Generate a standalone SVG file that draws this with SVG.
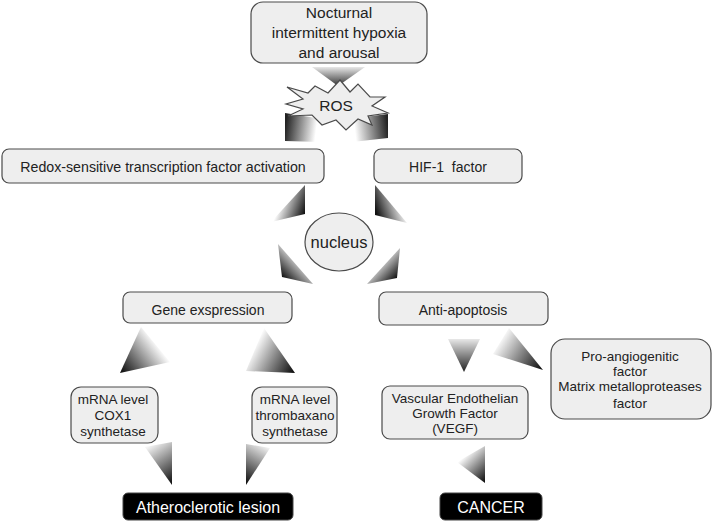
<svg xmlns="http://www.w3.org/2000/svg" width="713" height="530" viewBox="0 0 713 530">
<style>
.box{fill:#eeeeee;stroke:#4a4a4a;stroke-width:1.2}
.dark{fill:#000;stroke:#444;stroke-width:1}
text{font-family:"Liberation Sans",Arial,sans-serif;fill:#222;text-anchor:middle}
.w{fill:#fff}
.s13{font-size:13.5px}
.s14{font-size:14px}
.s15{font-size:15.5px}
.s16{font-size:16px}
</style>
<defs>
<linearGradient id="g1" gradientUnits="userSpaceOnUse" x1="338" y1="67" x2="338" y2="86"><stop offset="0" stop-color="#e8e8e8"/><stop offset="1" stop-color="#333"/></linearGradient>
<linearGradient id="g2" gradientUnits="userSpaceOnUse" x1="285" y1="128" x2="316" y2="132"><stop offset="0" stop-color="#222"/><stop offset="1" stop-color="#fff"/></linearGradient>
<linearGradient id="g3" gradientUnits="userSpaceOnUse" x1="388" y1="128" x2="355" y2="132"><stop offset="0" stop-color="#222"/><stop offset="1" stop-color="#fff"/></linearGradient>
<linearGradient id="g4" gradientUnits="userSpaceOnUse" x1="280" y1="203" x2="305" y2="212"><stop offset="0" stop-color="#fff"/><stop offset="1" stop-color="#111"/></linearGradient>
<linearGradient id="g5" gradientUnits="userSpaceOnUse" x1="402" y1="203" x2="376" y2="212"><stop offset="0" stop-color="#fff"/><stop offset="1" stop-color="#111"/></linearGradient>
<linearGradient id="g6" gradientUnits="userSpaceOnUse" x1="302" y1="258" x2="282" y2="277"><stop offset="0" stop-color="#fff"/><stop offset="1" stop-color="#111"/></linearGradient>
<linearGradient id="g7" gradientUnits="userSpaceOnUse" x1="378" y1="260" x2="397" y2="278"><stop offset="0" stop-color="#fff"/><stop offset="1" stop-color="#111"/></linearGradient>
<linearGradient id="g8" gradientUnits="userSpaceOnUse" x1="158" y1="345" x2="122" y2="372"><stop offset="0" stop-color="#fff"/><stop offset="1" stop-color="#111"/></linearGradient>
<linearGradient id="g9" gradientUnits="userSpaceOnUse" x1="252" y1="350" x2="293" y2="372"><stop offset="0" stop-color="#fff"/><stop offset="1" stop-color="#111"/></linearGradient>
<linearGradient id="g10" gradientUnits="userSpaceOnUse" x1="148" y1="447" x2="172" y2="483"><stop offset="0" stop-color="#f4f4f4"/><stop offset="1" stop-color="#111"/></linearGradient>
<linearGradient id="g11" gradientUnits="userSpaceOnUse" x1="268" y1="447" x2="247" y2="483"><stop offset="0" stop-color="#f4f4f4"/><stop offset="1" stop-color="#111"/></linearGradient>
<linearGradient id="g12" gradientUnits="userSpaceOnUse" x1="464" y1="339" x2="464" y2="372"><stop offset="0" stop-color="#e8e8e8"/><stop offset="1" stop-color="#222"/></linearGradient>
<linearGradient id="g13" gradientUnits="userSpaceOnUse" x1="498" y1="342" x2="541" y2="369"><stop offset="0" stop-color="#fff"/><stop offset="1" stop-color="#111"/></linearGradient>
<linearGradient id="g14" gradientUnits="userSpaceOnUse" x1="462" y1="458" x2="485" y2="481"><stop offset="0" stop-color="#fff"/><stop offset="1" stop-color="#111"/></linearGradient>
</defs>
<rect width="713" height="530" fill="#fff"/>
<g id="connectors">
<polygon points="312,67 365,67 338,86" fill="url(#g1)"/>
<polygon points="285,113 316,118 320,142 285,141" fill="url(#g2)"/>
<polygon points="388,114 356,118 352,142 388,138" fill="url(#g3)"/>
<polygon points="305,185 305,214 271,222" fill="url(#g4)"/>
<polygon points="375,185 375,215 407,223" fill="url(#g5)"/>
<polygon points="278,244 282,277 313,284" fill="url(#g6)"/>
<polygon points="400,248 397,278 367,284" fill="url(#g7)"/>
<polygon points="141,327 120,373 170,362" fill="url(#g8)"/>
<polygon points="264,328 295,373 246,371" fill="url(#g9)"/>
<polygon points="145,447 172,442 172,485" fill="url(#g10)"/>
<polygon points="246,444 270,448 246,485" fill="url(#g11)"/>
<polygon points="448,339 480,339 464,372" fill="url(#g12)"/>
<polygon points="509,328 493,354 543,370" fill="url(#g13)"/>
<polygon points="485,446 457,462 485,483" fill="url(#g14)"/>
</g>
<g id="n-top">
<rect class="box" x="251" y="2" width="176" height="61" rx="12"/>
<text class="s15" x="339" y="18">Nocturnal</text>
<text class="s15" x="339" y="38">intermittent hypoxia</text>
<text class="s15" x="339" y="58">and arousal</text>
</g>
<g id="n-ros">
<polygon class="box" points="340,80 350,92 358,84 370,97 385,97 372,106 388,113 368,116 372,125 358,119 346,130 336,120 322,125 312,115 288,116 303,109 286,104 303,99 287,87 308,93 315,86 328,93"/>
<text class="s15" x="336" y="111">ROS</text>
</g>
<g id="n-redox">
<rect class="box" x="2" y="149" width="322" height="34" rx="7"/>
<text x="163" y="172" font-size="14.2">Redox-sensitive transcription factor activation</text>
</g>
<g id="n-hif">
<rect class="box" x="374" y="149" width="148" height="34" rx="7"/>
<text class="s14" x="448" y="172" xml:space="preserve">HIF-1  factor</text>
</g>
<g id="n-nucleus">
<ellipse class="box" cx="339" cy="242" rx="34" ry="29"/>
<text x="339" y="248" font-size="16.5">nucleus</text>
</g>
<g id="n-gene">
<rect class="box" x="123" y="292" width="169" height="31" rx="7"/>
<text class="s14" x="208" y="315">Gene exspression</text>
</g>
<g id="n-anti">
<rect class="box" x="379" y="292" width="169" height="33" rx="7"/>
<text class="s14" x="463" y="315">Anti-apoptosis</text>
</g>
<g id="n-cox1">
<rect class="box" x="71" y="387" width="87" height="56" rx="10"/>
<text class="s13" x="113" y="404">mRNA level</text>
<text class="s13" x="113" y="420">COX1</text>
<text class="s13" x="113" y="436">synthetase</text>
</g>
<g id="n-thromb">
<rect class="box" x="252" y="387" width="85" height="56" rx="10"/>
<text class="s13" x="295" y="404">mRNA level</text>
<text class="s13" x="295" y="420">thrombaxano</text>
<text class="s13" x="295" y="436">synthetase</text>
</g>
<g id="n-vegf">
<rect class="box" x="382" y="386" width="146" height="53" rx="8"/>
<text class="s13" x="455" y="403">Vascular Endothelian</text>
<text class="s13" x="455" y="418">Growth Factor</text>
<text class="s13" x="455" y="433">(VEGF)</text>
</g>
<g id="n-pro">
<rect class="box" x="551" y="339" width="160" height="80" rx="14"/>
<text class="s13" x="630" y="361">Pro-angiogenitic</text>
<text class="s13" x="630" y="376">factor</text>
<text class="s13" x="630" y="391">Matrix metalloproteases</text>
<text class="s13" x="630" y="408">factor</text>
</g>
<g id="n-ath">
<rect class="dark" x="123" y="493" width="170" height="27" rx="5"/>
<text class="s16 w" x="208" y="513">Atheroclerotic lesion</text>
</g>
<g id="n-cancer">
<rect class="dark" x="440" y="493" width="102" height="27" rx="5"/>
<text class="s16 w" x="491" y="513">CANCER</text>
</g>
</svg>
